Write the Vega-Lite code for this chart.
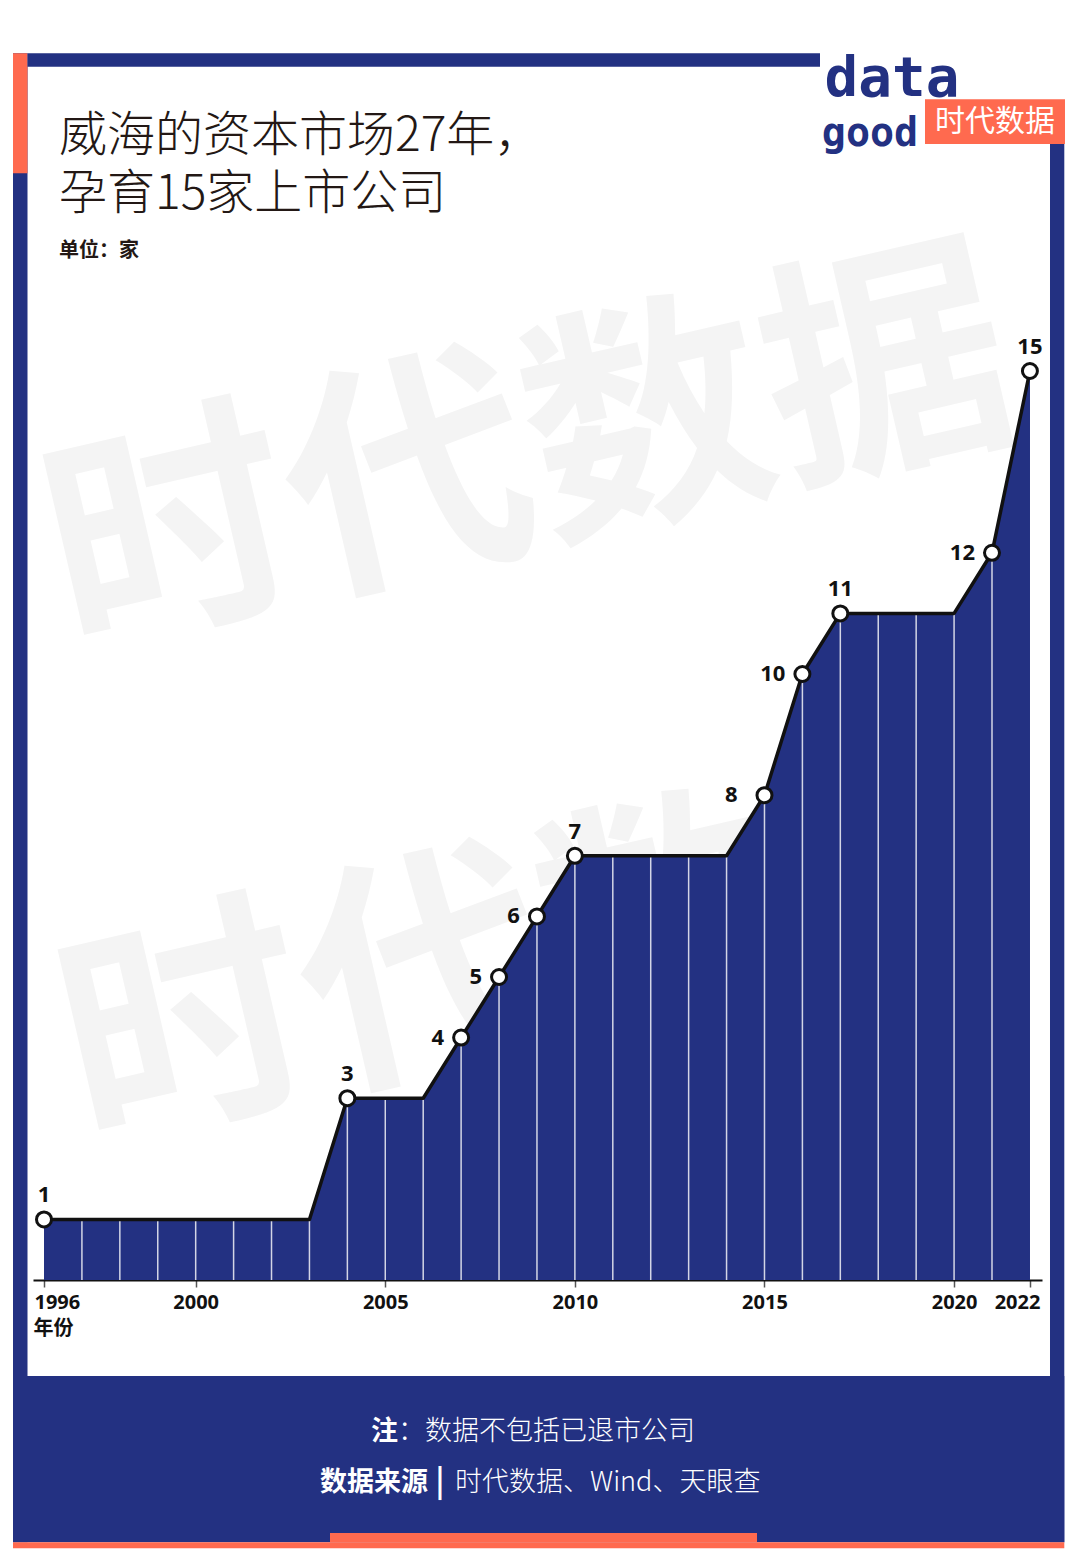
{
  "$schema": "https://vega.github.io/schema/vega-lite/v6.json",
  "autosize": "none",
  "width": 1009,
  "height": 1000,
  "padding": {"left": 33, "top": 280, "right": 38, "bottom": 283},
  "background": "white",
  "config": {"view": {"stroke": null}, "font": "Noto Sans CJK SC"},
  "title": {
    "text": ["威海的资本市场27年，", "孕育15家上市公司"],
    "subtitle": "单位：家",
    "anchor": "start",
    "frame": "group",
    "dx": 26,
    "offset": -210,
    "font": "Noto Sans CJK SC",
    "fontSize": 48,
    "fontWeight": 300,
    "color": "#231815",
    "lineHeight": 58,
    "subtitleFont": "Noto Sans CJK SC",
    "subtitleFontSize": 20,
    "subtitleFontWeight": "bold",
    "subtitleColor": "#231815",
    "subtitlePadding": 22
  },
  "data": {
    "values": [
      {"year": 1996, "count": 1}, {"year": 1997, "count": 1}, {"year": 1998, "count": 1},
      {"year": 1999, "count": 1}, {"year": 2000, "count": 1}, {"year": 2001, "count": 1},
      {"year": 2002, "count": 1}, {"year": 2003, "count": 1}, {"year": 2004, "count": 3},
      {"year": 2005, "count": 3}, {"year": 2006, "count": 3}, {"year": 2007, "count": 4},
      {"year": 2008, "count": 5}, {"year": 2009, "count": 6}, {"year": 2010, "count": 7},
      {"year": 2011, "count": 7}, {"year": 2012, "count": 7}, {"year": 2013, "count": 7},
      {"year": 2014, "count": 7}, {"year": 2015, "count": 8}, {"year": 2016, "count": 10},
      {"year": 2017, "count": 11}, {"year": 2018, "count": 11}, {"year": 2019, "count": 11},
      {"year": 2020, "count": 11}, {"year": 2021, "count": 12}, {"year": 2022, "count": 15}
    ]
  },
  "layer": [
    {
      "mark": {"type": "area", "color": "#233182"},
      "encoding": {
        "x": {
          "field": "year", "type": "quantitative",
          "scale": {"domain": [1995.7099, 2022.3186], "nice": false, "zero": false},
          "axis": {
            "values": [1996, 2000, 2005, 2010, 2015, 2020, 2022],
            "format": "d",
            "title": "年份",
            "titleX": 0, "titleY": 48,
            "titleAlign": "left", "titleBaseline": "middle",
            "titleFont": "Noto Sans CJK SC", "titleFontSize": 20, "titleFontWeight": "bold", "titleColor": "#111111",
            "domainColor": "#111111", "domainWidth": 2,
            "tickColor": "#555555", "tickSize": 7, "tickWidth": 1.5,
            "labelFont": "Open Sans", "labelFontSize": 20, "labelFontWeight": "bold", "labelColor": "#111111",
            "labelPadding": 5,
            "labelFlush": 15,
            "labelFlushOffset": 10,
            "labelOverlap": false,
            "grid": false
          }
        },
        "y": {
          "field": "count", "type": "quantitative",
          "scale": {"domain": [0, 16.5017], "nice": false, "zero": true},
          "axis": null
        }
      }
    },
    {
      "transform": [{"filter": "datum.year == 1996"}],
      "mark": {"type": "text", "text": "时代数据", "font": "Noto Sans CJK SC", "fontWeight": "bold", "fontSize": 245, "angle": -13, "color": "#f4f4f4", "align": "center", "baseline": "middle"},
      "encoding": {
        "x": {"datum": 2008.8165, "type": "quantitative"},
        "y": {"datum": 13.5314, "type": "quantitative"}
      }
    },
    {
      "transform": [{"filter": "datum.year == 1996"}],
      "mark": {"type": "text", "text": "时代数据", "font": "Noto Sans CJK SC", "fontWeight": "bold", "fontSize": 245, "angle": -13, "color": "#f4f4f4", "align": "center", "baseline": "middle"},
      "encoding": {
        "x": {"datum": 2009.212, "type": "quantitative"},
        "y": {"datum": 5.363, "type": "quantitative"}
      }
    },
    {
      "mark": {"type": "area", "color": "#233182"},
      "encoding": {
        "x": {"field": "year", "type": "quantitative"},
        "y": {"field": "count", "type": "quantitative"}
      }
    },
    {
      "transform": [{"filter": "datum.year > 1996 && datum.year < 2022"}],
      "mark": {"type": "rule", "color": "white", "strokeWidth": 1.5, "opacity": 0.8},
      "encoding": {
        "x": {"field": "year", "type": "quantitative"},
        "y": {"field": "count", "type": "quantitative"},
        "y2": {"datum": 0}
      }
    },
    {
      "mark": {"type": "line", "color": "#111111", "strokeWidth": 3.5, "strokeJoin": "round"},
      "encoding": {
        "x": {"field": "year", "type": "quantitative"},
        "y": {"field": "count", "type": "quantitative"}
      }
    },
    {
      "transform": [{"filter": "indexof([1996,2004,2007,2008,2009,2010,2015,2016,2017,2021,2022], datum.year) >= 0"}],
      "mark": {"type": "point", "shape": "circle", "filled": true, "fill": "white", "stroke": "#111111", "strokeWidth": 3, "size": 225, "opacity": 1},
      "encoding": {
        "x": {"field": "year", "type": "quantitative"},
        "y": {"field": "count", "type": "quantitative"}
      }
    },
    {
      "transform": [{"filter": "indexof([1996,2004,2010,2017,2022], datum.year) >= 0"}],
      "mark": {"type": "text", "font": "Open Sans", "fontWeight": "bold", "fontSize": 22, "color": "#111111", "align": "center", "baseline": "middle", "dy": -24},
      "encoding": {
        "x": {"field": "year", "type": "quantitative"},
        "y": {"field": "count", "type": "quantitative"},
        "text": {"field": "count", "type": "quantitative"}
      }
    },
    {
      "transform": [{"filter": "indexof([2007,2008,2009,2016,2021], datum.year) >= 0"}],
      "mark": {"type": "text", "font": "Open Sans", "fontWeight": "bold", "fontSize": 22, "color": "#111111", "align": "right", "baseline": "middle", "dx": -17},
      "encoding": {
        "x": {"field": "year", "type": "quantitative"},
        "y": {"field": "count", "type": "quantitative"},
        "text": {"field": "count", "type": "quantitative"}
      }
    },
    {
      "transform": [{"filter": "datum.year == 2015"}],
      "mark": {"type": "text", "font": "Open Sans", "fontWeight": "bold", "fontSize": 22, "color": "#111111", "align": "right", "baseline": "middle", "dx": -27},
      "encoding": {
        "x": {"field": "year", "type": "quantitative"},
        "y": {"field": "count", "type": "quantitative"},
        "text": {"field": "count", "type": "quantitative"}
      }
    },
    {
      "transform": [{"filter": "datum.year == 1996"}],
      "mark": {"type": "rect", "color": "#233182"},
      "encoding": {
        "x": {"datum": 1995.1825, "type": "quantitative"}, "x2": {"datum": 1995.5649},
        "y": {"datum": 20.2426, "type": "quantitative"}, "y2": {"datum": -4.3284}
      }
    },
    {
      "transform": [{"filter": "datum.year == 1996"}],
      "mark": {"type": "rect", "color": "#ff6a4f"},
      "encoding": {
        "x": {"datum": 1995.1825, "type": "quantitative"}, "x2": {"datum": 1995.5649},
        "y": {"datum": 20.2426, "type": "quantitative"}, "y2": {"datum": 18.2624}
      }
    },
    {
      "transform": [{"filter": "datum.year == 1996"}],
      "mark": {"type": "rect", "color": "#233182"},
      "encoding": {
        "x": {"datum": 1995.5649, "type": "quantitative"}, "x2": {"datum": 2016.4641},
        "y": {"datum": 20.2426, "type": "quantitative"}, "y2": {"datum": 20.0215}
      }
    },
    {
      "transform": [{"filter": "datum.year == 1996"}],
      "mark": {"type": "rect", "color": "#233182"},
      "encoding": {
        "x": {"datum": 2022.5295, "type": "quantitative"}, "x2": {"datum": 2022.9066},
        "y": {"datum": 18.7574, "type": "quantitative"}, "y2": {"datum": -4.3284}
      }
    },
    {
      "transform": [{"filter": "datum.year == 1996"}],
      "mark": {"type": "rect", "color": "#233182"},
      "encoding": {
        "x": {"datum": 1995.1825, "type": "quantitative"}, "x2": {"datum": 2022.9066},
        "y": {"datum": -1.5842, "type": "quantitative"}, "y2": {"datum": -4.3284}
      }
    },
    {
      "transform": [{"filter": "datum.year == 1996"}],
      "mark": {"type": "rect", "color": "#ff6a4f"},
      "encoding": {
        "x": {"datum": 1995.1825, "type": "quantitative"}, "x2": {"datum": 2022.9066},
        "y": {"datum": -4.3284, "type": "quantitative"}, "y2": {"datum": -4.4274}
      }
    },
    {
      "transform": [{"filter": "datum.year == 1996"}],
      "mark": {"type": "rect", "color": "#ff6a4f"},
      "encoding": {
        "x": {"datum": 2003.5422, "type": "quantitative"}, "x2": {"datum": 2014.8027},
        "y": {"datum": -4.1749, "type": "quantitative"}, "y2": {"datum": -4.3284}
      }
    },
    {
      "transform": [{"filter": "datum.year == 1996"}],
      "mark": {"type": "rect", "color": "#ff6a4f"},
      "encoding": {
        "x": {"datum": 2019.2331, "type": "quantitative"}, "x2": {"datum": 2022.925},
        "y": {"datum": 19.4835, "type": "quantitative"}, "y2": {"datum": 18.7459}
      }
    },
    {
      "transform": [{"filter": "datum.year == 1996"}],
      "mark": {"type": "text", "text": "时代数据", "font": "Noto Sans CJK SC", "fontSize": 30, "color": "white", "align": "center", "baseline": "middle"},
      "encoding": {
        "x": {"datum": 2021.0791, "type": "quantitative"},
        "y": {"datum": 19.1172, "type": "quantitative"}
      }
    },
    {
      "transform": [{"filter": "datum.year == 1996"}],
      "mark": {"type": "text", "text": "data", "font": "DejaVu Sans Mono", "fontWeight": "bold", "fontSize": 56, "color": "#233182", "align": "center", "baseline": "alphabetic"},
      "encoding": {
        "x": {"datum": 2018.3629, "type": "quantitative"},
        "y": {"datum": 19.538, "type": "quantitative"}
      }
    },
    {
      "transform": [{"filter": "datum.year == 1996"}],
      "mark": {"type": "text", "text": "good", "font": "DejaVu Sans Mono", "fontWeight": "bold", "fontSize": 40, "color": "#233182", "align": "center", "baseline": "alphabetic"},
      "encoding": {
        "x": {"datum": 2017.7827, "type": "quantitative"},
        "y": {"datum": 18.7129, "type": "quantitative"}
      }
    },
    {
      "transform": [{"filter": "datum.year == 1996"}],
      "mark": {"type": "text", "text": "注", "font": "Noto Sans CJK SC", "fontWeight": "bold", "fontSize": 27, "color": "white", "align": "right", "baseline": "middle"},
      "encoding": {
        "x": {"datum": 2005.3354, "type": "quantitative"},
        "y": {"datum": -2.5083, "type": "quantitative"}
      }
    },
    {
      "transform": [{"filter": "datum.year == 1996"}],
      "mark": {"type": "text", "text": "：数据不包括已退市公司", "font": "Noto Sans CJK SC", "fontWeight": 300, "fontSize": 27, "color": "white", "align": "left", "baseline": "middle"},
      "encoding": {
        "x": {"datum": 2005.3354, "type": "quantitative"},
        "y": {"datum": -2.5083, "type": "quantitative"}
      }
    },
    {
      "transform": [{"filter": "datum.year == 1996"}],
      "mark": {"type": "text", "text": "数据来源", "font": "Noto Sans CJK SC", "fontWeight": "bold", "fontSize": 27, "color": "white", "align": "right", "baseline": "middle"},
      "encoding": {
        "x": {"datum": 2006.1266, "type": "quantitative"},
        "y": {"datum": -3.3498, "type": "quantitative"}
      }
    },
    {
      "transform": [{"filter": "datum.year == 1996"}],
      "mark": {"type": "text", "text": "|", "font": "Noto Sans CJK SC", "fontWeight": "bold", "fontSize": 30, "color": "white", "align": "center", "baseline": "middle"},
      "encoding": {
        "x": {"datum": 2006.443, "type": "quantitative"},
        "y": {"datum": -3.3498, "type": "quantitative"}
      }
    },
    {
      "transform": [{"filter": "datum.year == 1996"}],
      "mark": {"type": "text", "text": "时代数据、Wind、天眼查", "font": "Noto Sans CJK SC", "fontWeight": 300, "fontSize": 27, "color": "white", "align": "left", "baseline": "middle"},
      "encoding": {
        "x": {"datum": 2006.8386, "type": "quantitative"},
        "y": {"datum": -3.3498, "type": "quantitative"}
      }
    }
  ]
}
